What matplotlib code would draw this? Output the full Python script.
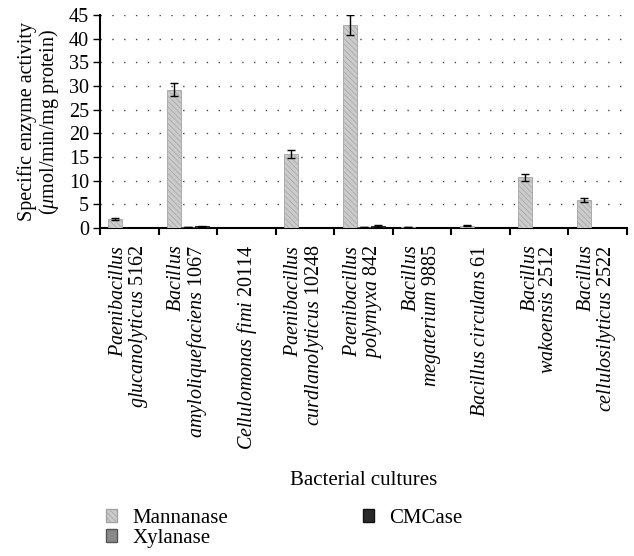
import matplotlib
matplotlib.use('Agg')
import matplotlib.pyplot as plt
import numpy as np
from matplotlib.patches import Patch

plt.rcParams['font.family'] = 'Liberation Serif'
plt.rcParams['mathtext.fontset'] = 'custom'
plt.rcParams['mathtext.rm'] = 'Liberation Serif'
plt.rcParams['mathtext.it'] = 'Liberation Serif:italic'
plt.rcParams['hatch.linewidth'] = 0.5

cultures = [
    '$\\it{Paenibacillus}$\n$\\it{glucanolyticus}$ 5162',
    '$\\it{Bacillus}$\n$\\it{amyloliquefaciens}$ 1067',
    '$\\it{Cellulomonas}$ $\\it{fimi}$ 20114',
    '$\\it{Paenibacillus}$\n$\\it{curdlanolyticus}$ 10248',
    '$\\it{Paenibacillus}$\n$\\it{polymyxa}$ 842',
    '$\\it{Bacillus}$\n$\\it{megaterium}$ 9885',
    '$\\it{Bacillus}$ $\\it{circulans}$ 61',
    '$\\it{Bacillus}$\n$\\it{wakoensis}$ 2512',
    '$\\it{Bacillus}$\n$\\it{cellulosilyticus}$ 2522',
]
mannanase = [1.9, 29.2, 0.0, 15.6, 42.8, 0.2, 0.5, 10.7, 5.9]
mannanase_err = [0.2, 1.4, 0.0, 0.8, 2.1, 0.1, 0.1, 0.7, 0.5]
xylanase = [0.0, 0.2, 0.0, 0.0, 0.2, 0.0, 0.0, 0.0, 0.0]
xylanase_err = [0.0, 0.1, 0.0, 0.0, 0.1, 0.0, 0.0, 0.0, 0.0]
cmcase = [0.0, 0.4, 0.0, 0.0, 0.5, 0.0, 0.0, 0.0, 0.0]
cmcase_err = [0.0, 0.1, 0.0, 0.0, 0.2, 0.0, 0.0, 0.0, 0.0]

fig = plt.figure(figsize=(6.34, 5.56), dpi=100)
ax = fig.add_axes([0.158, 0.590, 0.831, 0.383])

x = np.arange(len(cultures)) + 0.5
w = 0.24
err_kw = dict(ecolor='black', elinewidth=1.0, capsize=3, capthick=1.0)

ax.bar(x - w, mannanase, w, yerr=mannanase_err, facecolor='#cbcbcb',
       edgecolor='#a4a4a4', hatch='\\\\\\\\\\\\', linewidth=0.6, error_kw=err_kw, zorder=3)
ax.bar(x, xylanase, w, yerr=xylanase_err, facecolor='#8a8a8a',
       edgecolor='#555555', linewidth=0.6, error_kw=err_kw, zorder=3)
ax.bar(x + w, cmcase, w, yerr=cmcase_err, facecolor='#2a2a2a',
       edgecolor='#111111', linewidth=0.6, error_kw=err_kw, zorder=3)

ax.set_xlim(0, len(cultures))
ax.set_ylim(0, 45)
ax.set_yticks(range(0, 46, 5))
ax.set_xticks(x)
ax.set_xticklabels(cultures, rotation=90, ha='center', va='top',
                   multialignment='right', fontsize=14.5, linespacing=0.95)
ax.set_xticks(np.arange(len(cultures) + 1), minor=True)
ax.tick_params(axis='x', which='major', length=0, pad=12)
ax.tick_params(axis='x', which='minor', length=5, width=1.5, direction='out')
ax.tick_params(axis='y', length=5, width=1, labelsize=14.5, pad=3)

ax.yaxis.grid(True, linestyle=(0, (1.0, 7.5)), color='#444444', linewidth=1.0, zorder=0)
ax.set_axisbelow(True)
for s in ['top', 'right']:
    ax.spines[s].set_visible(False)
ax.spines['left'].set_linewidth(1.5)
ax.spines['bottom'].set_linewidth(1.5)

ax.set_ylabel('Specific enzyme activity\n($\\mathit{\\mu}$mol/min/mg protein)',
              fontsize=14.5, labelpad=6, linespacing=1.0)
fig.text(0.574, 0.136, 'Bacterial cultures', ha='center', va='center', fontsize=15)

handles = [
    Patch(facecolor='#cbcbcb', edgecolor='#a4a4a4', hatch='\\\\\\\\\\\\', label='Mannanase'),
    Patch(facecolor='#8a8a8a', edgecolor='#555555', label='Xylanase'),
    Patch(facecolor='#2a2a2a', edgecolor='#111111', label='CMCase'),
]
fig.legend(handles=handles, loc='upper left', bbox_to_anchor=(0.154, 0.100),
           ncol=2, frameon=False, fontsize=15, handlelength=0.55, handleheight=0.55,
           handletextpad=0.72, columnspacing=6.45, labelspacing=0.05, borderaxespad=0)

fig.savefig('out.png', dpi=100)
